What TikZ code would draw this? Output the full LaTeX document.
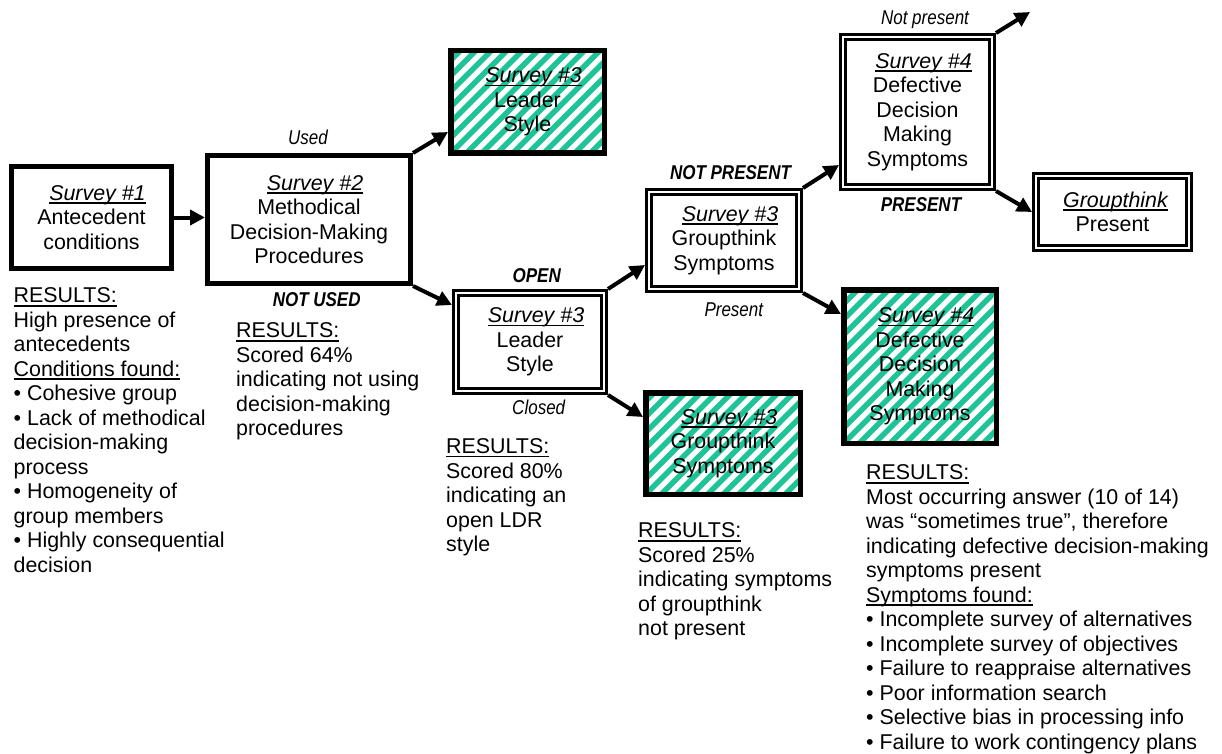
\documentclass[tikz,border=0pt]{standalone}
\usepackage{fontspec}
\setmainfont{Liberation Sans}
\newfontfamily\labelfont{Liberation Sans}[FakeStretch=0.85]
\usetikzlibrary{arrows.meta}
\definecolor{stripe}{HTML}{1EC497}
% underline with a fixed offset below the baseline
\newcommand\myul[1]{\setbox0\hbox{#1}\rlap{\rule[-3.6pt]{\wd0}{1.7pt}}\box0}
\newcommand\survey[1]{\hspace*{12pt}\myul{\itshape #1}}
\tikzset{
  body/.style={font=\fontsize{21.4pt}{24.5pt}\selectfont},
  thickbox/.style={draw, line width=5pt, outer sep=2.5pt, inner sep=0pt,
    align=center, body},
  doublebox/.style={draw, line width=3pt, double, double distance=2pt,
    outer sep=4pt, inner sep=0pt, align=center, body},
  hatchbox/.style={draw, line width=5.5pt, outer sep=2.75pt, inner sep=0pt,
    align=center, body,
    path picture={
      \foreach \k in {-12,...,12}{
        \draw[stripe, line width=5.5pt]
          ([xshift=\k*15.5pt]path picture bounding box.south west) -- ++(240pt,240pt);
      }}},
  conn/.style={line width=4pt, -{Triangle[length=15pt,width=15pt]}},
  lbl/.style={font={\labelfont\fontsize{20pt}{22pt}\selectfont\itshape},
    anchor=base, inner sep=0pt},
  lblb/.style={font={\labelfont\fontsize{20pt}{22pt}\selectfont\itshape\bfseries},
    anchor=base, inner sep=0pt},
  block/.style={body, align=left, anchor=north west, inner sep=0pt},
}
\begin{document}
\begin{tikzpicture}[x=1pt, y=-1pt]
\useasboundingbox (0,0) rectangle (1222,754);

% survey boxes
\node[thickbox, minimum width=160pt, minimum height=102pt] (b1) at (91.5,217.5)
  {\survey{Survey \#1}\\Antecedent\\conditions};
\node[thickbox, minimum width=203pt, minimum height=128pt] (b2) at (309,219.5)
  {\survey{Survey \#2}\\Methodical\\Decision-Making\\Procedures};
\node[hatchbox, minimum width=153.5pt, minimum height=102.5pt] (b3) at (527.5,102)
  {\survey{Survey \#3}\\Leader\\Style};
\node[doublebox, minimum width=148pt, minimum height=98pt] (b4) at (530,342)
  {\survey{Survey \#3}\\Leader\\Style};
\node[doublebox, minimum width=150pt, minimum height=97pt] (b5) at (724,240.5)
  {\survey{Survey \#3}\\Groupthink\\Symptoms};
\node[hatchbox, minimum width=154.5pt, minimum height=101.5pt] (b6) at (723,443.5)
  {\survey{Survey \#3}\\Groupthink\\Symptoms};
\node[doublebox, minimum width=149pt, minimum height=150pt] (b7) at (917.5,112)
  {\survey{Survey \#4}\\Defective\\Decision\\Making\\Symptoms};
\node[doublebox, minimum width=153pt, minimum height=72pt] (b8) at (1112.5,212)
  {\hspace*{6pt}\myul{\itshape Groupthink}\\Present};
\node[hatchbox, minimum width=152.5pt, minimum height=153.5pt] (b9) at (920,366.5)
  {\survey{Survey \#4}\\Defective\\Decision\\Making\\Symptoms};
\coordinate (np) at (1030,12);

% connectors
\draw[conn] (b1.east) -- (b1.east -| b2.west);
\draw[conn] (b2.north east) -- ([yshift=-30pt]b3.west);
\draw[conn] (b2.south east) -- ([yshift=37pt]b4.west);
\draw[conn] (b4.north east) -- ([yshift=-24.5pt]b5.west);
\draw[conn] (b4.south east) -- ([yshift=26.5pt]b6.west);
\draw[conn] (b5.north east) -- ([yshift=-53pt]b7.west);
\draw[conn] (b5.south east) -- ([yshift=52.5pt]b9.west);
\draw[conn] (b7.north east) -- (np);
\draw[conn] (b7.south east) -- (b8.west);

% branch labels
\node[lbl]  (uUsed)  at (308,145)   {Used};
\node[lblb] (uNU)    at (316.7,306.7) {NOT USED};
\node[lblb] (uOpen)  at (536.7,282.7) {OPEN};
\node[lbl]  (uCl)    at (538.7,414) {Closed};
\node[lblb] (uNP)    at (730.5,179.3) {NOT PRESENT};
\node[lbl]  (uPr)    at (733.8,316.7) {Present};
\node[lbl]  (uNp2)   at (925,24.3)  {Not present};
\node[lblb] (uPR)    at (921,211)   {PRESENT};

% results
\node[block] (r1) at (13.5,282.7) {\rule{0pt}{20pt}\myul{RESULTS:}\\
  High presence of\\antecedents\\\myul{Conditions found:}\\
  • Cohesive group\\• Lack of methodical\\decision-making\\process\\
  • Homogeneity of\\group members\\• Highly consequential\\decision};
\node[block] (r2) at (236,317.7) {\rule{0pt}{20pt}\myul{RESULTS:}\\
  Scored 64\%\\indicating not using\\decision-making\\procedures};
\node[block] (r3) at (446,433.4) {\rule{0pt}{20pt}\myul{RESULTS:}\\
  Scored 80\%\\indicating an\\open LDR\\style};
\node[block] (r4) at (638,517.7) {\rule{0pt}{20pt}\myul{RESULTS:}\\
  Scored 25\%\\indicating symptoms\\of groupthink\\not present};
\node[block] (r5) at (866,459.7) {\rule{0pt}{20pt}\myul{RESULTS:}\\
  Most occurring answer (10 of 14)\\was “sometimes true”, therefore\\
  indicating defective decision-making\\symptoms present\\
  \myul{Symptoms found:}\\
  • Incomplete survey of alternatives\\• Incomplete survey of objectives\\
  • Failure to reappraise alternatives\\• Poor information search\\
  • Selective bias in processing info\\• Failure to work contingency plans};
\end{tikzpicture}
\end{document}
